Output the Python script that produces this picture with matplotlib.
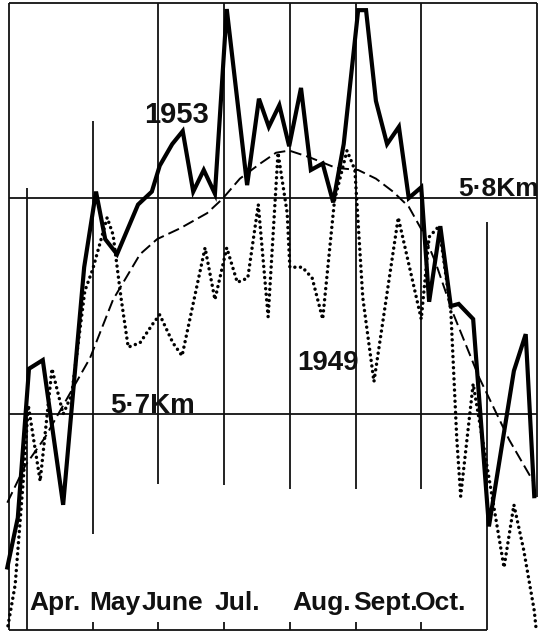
import matplotlib
matplotlib.use('Agg')
import matplotlib.pyplot as plt

plt.rcParams['font.family'] = ['Liberation Sans', 'DejaVu Sans']

# x: month number (4.0 = 1 April), y: height in km
x_1953 = [3.70, 3.86, 4.03, 4.24, 4.55, 4.87, 5.05, 5.19, 5.37, 5.69, 5.90, 6.02,
          6.21, 6.37, 6.53, 6.69, 6.86, 7.04, 7.35, 7.53, 7.68, 7.84, 7.99, 8.17,
          8.32, 8.50, 8.66, 8.82, 9.04, 9.16, 9.31, 9.48, 9.66, 9.81, 10.00, 10.12,
          10.29, 10.45, 10.57, 10.79, 11.03, 11.41, 11.59, 11.72]
h_1953 = [5.629, 5.652, 5.721, 5.725, 5.658, 5.768, 5.803, 5.781, 5.774, 5.797, 5.803, 5.815,
          5.825, 5.831, 5.803, 5.813, 5.802, 5.8875, 5.806, 5.846, 5.833, 5.843, 5.824, 5.851,
          5.813, 5.816, 5.798, 5.825, 5.887, 5.887, 5.845, 5.825, 5.833, 5.800, 5.805, 5.752,
          5.787, 5.750, 5.751, 5.744, 5.648, 5.720, 5.737, 5.662]

x_1949 = [3.71, 3.82, 3.94, 4.02, 4.20, 4.38, 4.55, 4.68, 4.88, 5.00, 5.22, 5.31,
          5.43, 5.54, 5.72, 5.92, 6.02, 6.22, 6.36, 6.71, 6.86, 7.04, 7.20, 7.36,
          7.52, 7.67, 7.82, 7.96, 8.00, 8.19, 8.34, 8.50, 8.68, 8.87, 8.99, 9.11,
          9.28, 9.65, 10.00, 10.12, 10.27, 10.45, 10.54, 10.60, 10.79, 11.26, 11.41,
          11.56, 11.72, 11.75]
h_1949 = [5.602, 5.621, 5.668, 5.704, 5.669, 5.721, 5.700, 5.709, 5.757, 5.767, 5.791, 5.783,
          5.754, 5.731, 5.733, 5.742, 5.746, 5.733, 5.727, 5.777, 5.753, 5.777, 5.761, 5.763,
          5.797, 5.745, 5.821, 5.793, 5.768, 5.768, 5.763, 5.744, 5.799, 5.822, 5.813, 5.754,
          5.715, 5.791, 5.744, 5.782, 5.787, 5.748, 5.689, 5.662, 5.714, 5.629, 5.658,
          5.637, 5.609, 5.600]

# smoothed mean curve
x_mean = [3.70, 3.97, 4.27, 4.96, 5.31, 5.72, 5.98, 6.33, 6.74, 6.97, 7.24, 7.55, 7.79,
          7.99, 8.29, 8.70, 9.04, 9.31, 9.57, 9.81, 10.03, 10.22, 10.48, 10.88, 11.34, 11.72]
h_mean = [5.659, 5.676, 5.689, 5.726, 5.753, 5.774, 5.781, 5.786, 5.793, 5.7995, 5.809, 5.816, 5.821,
          5.822, 5.819, 5.814, 5.813, 5.809, 5.803, 5.796, 5.784, 5.770, 5.747, 5.717, 5.688, 5.668]

months = ['Apr.', 'May', 'June', 'Jul.', 'Aug.', 'Sept.', 'Oct.']
month_pos = [4.43, 5.33, 6.22, 7.20, 8.49, 9.45, 10.30]
levels = [5.7, 5.8]
level_labels = ['5·7Km', '5·8Km']

fig = plt.figure(figsize=(5.52, 6.34), dpi=100)
ax = fig.add_axes([0, 0, 1, 1])
ax.set_xlim(3.589, 11.990)
ax.set_ylim(5.5982, 5.8917)
ax.axis('off')

k = dict(color='#111111', lw=1.3, solid_capstyle='butt')
x_left, x_right, y_top, y_bot = 3.726, 11.761, 5.8903, 5.6

# frame
ax.plot([x_left, x_right], [y_top, y_top], **k)
ax.plot([x_left, x_left], [y_bot, y_top], **k)
ax.plot([x_right, x_right], [5.6616, y_top], **k)
ax.plot([x_left, 11.0], [y_bot, y_bot], **k)

# month boundaries
edges = [4, 5, 6, 7, 8, 9, 10, 11]
tops = [5.8046, 5.8356, y_top, y_top, y_top, y_top, y_top, 5.7889]
bots = [y_bot, 5.6444, 5.6676, 5.6671, 5.6653, 5.6653, 5.6653, y_bot]
for e, t, b in zip(edges, tops, bots):
    ax.plot([e, e], [b, t], **k)
for e in edges[1:-1]:
    ax.plot([e, e], [y_bot, y_bot + 0.0037], **k)

for lv in levels:
    ax.plot([x_left, x_right], [lv, lv], **k)

ax.plot(x_1953, h_1953, color='black', lw=3.0, solid_joinstyle='miter')
ax.plot(x_1949, h_1949, color='black', lw=2.5, linestyle=(0, (0.01, 1.6)),
        dash_capstyle='round')
ax.plot(x_mean, h_mean, color='black', lw=1.4, linestyle=(0, (6, 2.6)))

txt = dict(fontweight='bold', color='#111111')
for m, p in zip(months, month_pos):
    ax.text(p, 5.6093, m, ha='center', va='baseline', fontsize=19, **txt)

ax.text(5.263, levels[0] + 0.0005, level_labels[0], ha='left', va='baseline', fontsize=20, **txt)
ax.text(11.79, levels[1] + 0.0009, level_labels[1], ha='right', va='baseline', fontsize=19, **txt)
ax.text(6.27, 5.8347, '1953', ha='center', va='baseline', fontsize=21, **txt)
ax.text(8.58, 5.7204, '1949', ha='center', va='baseline', fontsize=20, **txt)

fig.savefig('out.png', dpi=100)
